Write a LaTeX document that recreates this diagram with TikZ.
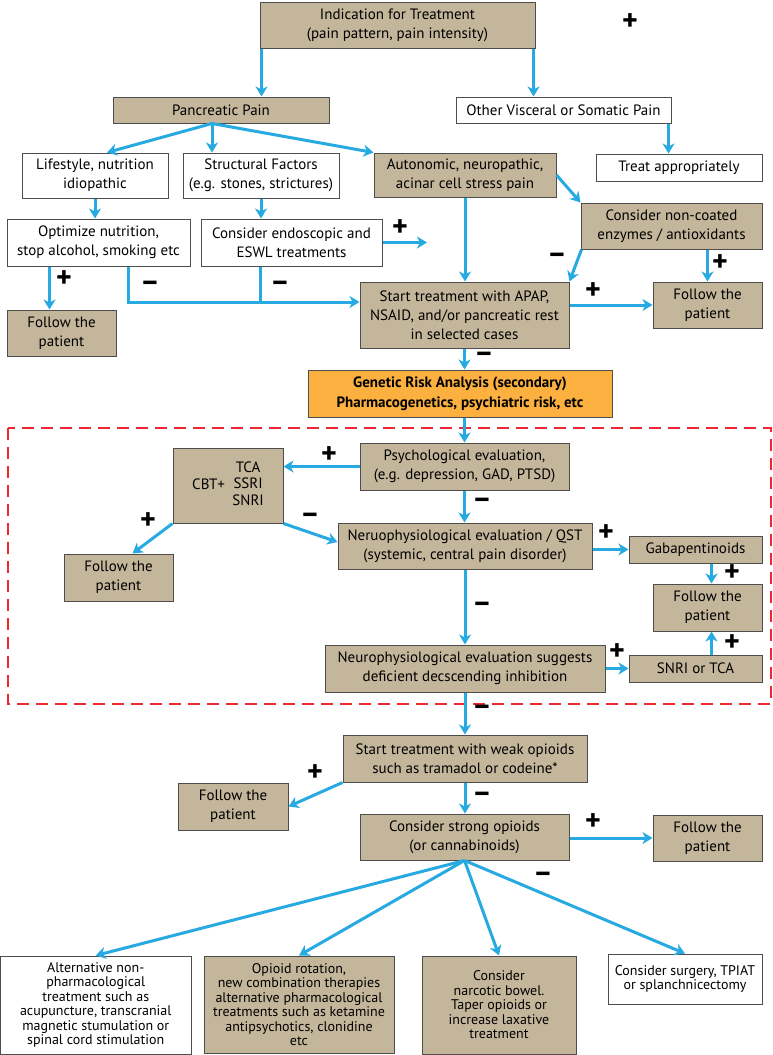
\documentclass[tikz,border=0pt]{standalone}
\usepackage{fontspec}
\setmainfont{PT Sans}
\usetikzlibrary{arrows.meta,calc}
\definecolor{boxtan}{RGB}{196,182,155}
\definecolor{arrblue}{RGB}{39,170,225}
\definecolor{genorange}{RGB}{251,176,64}
\definecolor{dashred}{RGB}{237,40,50}
\definecolor{edge}{RGB}{77,77,77}
\tikzset{bx/.style={draw=edge,line width=1pt,align=center,inner sep=1pt,font=\fontsize{15}{19}\selectfont},
  tan/.style={bx,fill=boxtan},wht/.style={bx,fill=white},
  wh/.style 2 args={minimum width=#1pt,minimum height=#2pt},
  sm/.style={font=\fontsize{14}{14.5}\selectfont},
  arr/.style={draw=arrblue,line width=3pt,-{Stealth[length=10pt,width=12pt,inset=3pt]}},
  ln/.style={draw=arrblue,line width=3pt},
  sgn/.style={font=\bfseries\fontsize{30}{30}\selectfont,inner sep=0pt}}

\begin{document}
\begin{tikzpicture}[x=1pt,y=-1pt]
  \useasboundingbox (0,0) rectangle (773,1055);
  % top part
  \node[tan,wh={275}{46}] (ind) at (397.5,25) {Indication for Treatment\\(pain pattern, pain intensity)};
  \node[tan,wh={216}{26}] (pan) at (221,110) {Pancreatic Pain};
  \node[wht,wh={215}{26}] (oth) at (563.5,110) {Other Visceral or Somatic Pain};
  \node[wht,wh={166}{27}] (trt) at (679,167.5) {Treat appropriately};
  \node[wht,wh={146}{45}] (life) at (95,175.5) {Lifestyle, nutrition\\idiopathic};
  \node[wht,wh={156}{45}] (str) at (261,175.5) {Structural Factors\\(e.g. stones, strictures)};
  \node[tan,wh={182}{44}] (aut) at (465,175) {Autonomic, neuropathic,\\acinar cell stress pain};
  \node[wht,wh={183}{47}] (opt) at (98.5,242.5) {Optimize nutrition,\\stop alcohol, smoking etc};
  \node[wht,wh={181}{47}] (endo) at (291.5,242.5) {Consider endoscopic and\\ESWL treatments};
  \node[tan,wh={181}{46}] (enz) at (671.5,226) {Consider non-coated\\enzymes / antioxidants};
  \node[tan,wh={209}{66}] (apap) at (464.5,315) {Start treatment with APAP,\\NSAID, and/or pancreatic rest\\in selected cases};
  \node[tan,wh={109}{46}] (fr1) at (707.5,305) {Follow the\\patient};
  \node[tan,wh={109}{46}] (fl1) at (61.5,333) {Follow the\\patient};
  \node[bx,fill=genorange,wh={304}{47},font=\bfseries\fontsize{15}{20}\selectfont] (gen) at (460,393.5) {Genetic Risk Analysis (secondary)\\Pharmacogenetics, psychiatric risk, etc};
  % dashed region
  \draw[dashred,line width=1.8pt,dash pattern=on 12pt off 7pt] (8,428) rectangle (771,704);
  \node[tan,wh={209}{47}] (psy) at (464.5,466.5) {Psychological evaluation,\\(e.g. depression, GAD, PTSD)};
  \node[tan,wh={110}{75},font=\fontsize{15}{16.5}\selectfont] (cbt) at (228,485.5) {CBT+\enspace\begin{tabular}{@{}c@{}}TCA\\SSRI\\SNRI\end{tabular}};
  \node[tan,wh={109}{47}] (fl2) at (118.5,577.5) {Follow the\\patient};
  \node[tan,wh={254}{46}] (qst) at (465,546) {Neruophysiological evaluation / QST\\(systemic, central pain disorder)};
  \node[tan,wh={133}{27}] (gaba) at (695.5,549.5) {Gabapentinoids};
  \node[tan,wh={109}{47}] (fr2) at (707.5,607.5) {Follow the\\patient};
  \node[tan,wh={280}{47}] (inh) at (465,668.5) {Neurophysiological evaluation suggests\\deficient decscending inhibition};
  \node[tan,wh={133}{27}] (snri) at (695.5,668.5) {SNRI or TCA};
  % lower part
  \node[tan,wh={244}{47}] (weak) at (465,758.5) {Start treatment with weak opioids\\such as tramadol or codeine*};
  \node[tan,wh={110}{47}] (fl3) at (233,806.5) {Follow the\\patient};
  \node[tan,wh={209}{46}] (strg) at (464.5,837) {Consider strong opioids\\(or cannabinoids)};
  \node[tan,wh={109}{46}] (fr3) at (707.5,838) {Follow the\\patient};
  \node[wht,sm,wh={190.5}{98}] (alt) at (95.75,1005) {Alternative non-\\pharmacological\\treatment such as\\acupuncture, transcranial\\magnetic stumulation or\\spinal cord stimulation};
  \node[tan,sm,wh={190}{97}] (rot) at (299,1004.5) {Opioid rotation,\\new combination therapies\\alternative pharmacological\\treatments such as ketamine\\antipsychotics, clonidine\\etc};
  \node[tan,sm,wh={154}{98}] (bow) at (499,1005) {Consider\\narcotic bowel.\\Taper opioids or\\increase laxative\\treatment};
  \node[wht,sm,wh={154}{50}] (sur) at (685,979) {Consider surgery, TPIAT\\or splanchnicectomy};
  % connectors
  \coordinate (pf) at ([xshift=-9pt]pan.south);
  \coordinate (eo) at (427,242.5);
  \coordinate (j) at ([yshift=13pt]apap.west);
  \draw[arr] ([xshift=2pt]ind.south west) -- ([xshift=2pt]ind.south west |- pan.north);
  \draw[arr] ([xshift=-2pt]ind.south east) -- ([xshift=-2pt]ind.south east |- oth.north);
  \draw[arr] ([xshift=-3pt]oth.south east) -- ([xshift=-3pt]oth.south east |- trt.north);
  \draw[arr] (pf) -- ([xshift=12pt]life.north);
  \draw[arr] (pf) -- (pf |- str.north);
  \draw[arr] (pf) -- (aut.north west);
  \draw[arr] (life.south) -- (life.south |- opt.north);
  \draw[arr] (str.south) -- (str.south |- endo.north);
  \draw[arr] (endo.east) -- (eo);
  \draw[arr] (aut.south) -- (aut.south |- apap.north);
  \draw[arr] (aut.east) -- (enz.north west);
  \draw[arr] ([xshift=1pt]enz.south west) -- (apap.north east);
  \draw[arr] (fr1.north |- enz.south) -- (fr1.north);
  \draw[arr] (apap.east |- fr1.west) -- (fr1.west);
  \draw[arr] ([xshift=-12pt]fl1.north |- opt.south) -- ([xshift=-12pt]fl1.north);
  \draw[arr] ([xshift=29.5pt]opt.south) |- (j);
  \draw[ln] ([xshift=-31.5pt]endo.south) -- ([xshift=-31.5pt]endo.south |- j);
  \draw[arr] (apap.south) -- (apap.south |- gen.north);
  \draw[arr] (psy.north |- gen.south) -- (psy.north);
  \draw[arr] (psy.west) -- (psy.west -| cbt.east);
  \draw[arr] (psy.south) -- (psy.south |- qst.north);
  \draw[arr] (cbt.south west) -- ([xshift=14pt]fl2.north);
  \draw[arr] (cbt.south east) -- ([yshift=4pt]qst.west);
  \draw[arr] (qst.east |- gaba.west) -- (gaba.west);
  \draw[arr] ([xshift=16pt]gaba.south) -- ([xshift=16pt]gaba.south |- fr2.north);
  \draw[arr] (qst.south) -- (qst.south |- inh.north);
  \draw[arr] (inh.east) -- (snri.west);
  \draw[arr] ([xshift=16pt]snri.north) -- ([xshift=16pt]snri.north |- fr2.south);
  \draw[arr] (inh.south) -- (inh.south |- weak.north);
  \draw[arr] (weak.south west) -- (fl3.east);
  \draw[arr] (weak.south) -- (weak.south |- strg.north);
  \draw[arr] (strg.east |- fr3.west) -- (fr3.west);
  \foreach \t in {alt,rot,bow,sur}
    \draw[arr] (strg.south) -- (\t.north);
  % signs
  \foreach \x/\y [count=\i] in {630/22,400/228,720/263,593/291,64/279,329/455,148/521,606/533,732/573,617/652,732/643,315/773,593/822}
    \node[sgn] (p\i) at (\x,\y) {+};
  \foreach \x/\y [count=\i] in {557/258,150/286,280/286,484/357,482/503,310/518,482/607,482/710,482/797,543/877}
    \node[sgn] (m\i) at (\x,\y) {--};
\end{tikzpicture}
\end{document}
